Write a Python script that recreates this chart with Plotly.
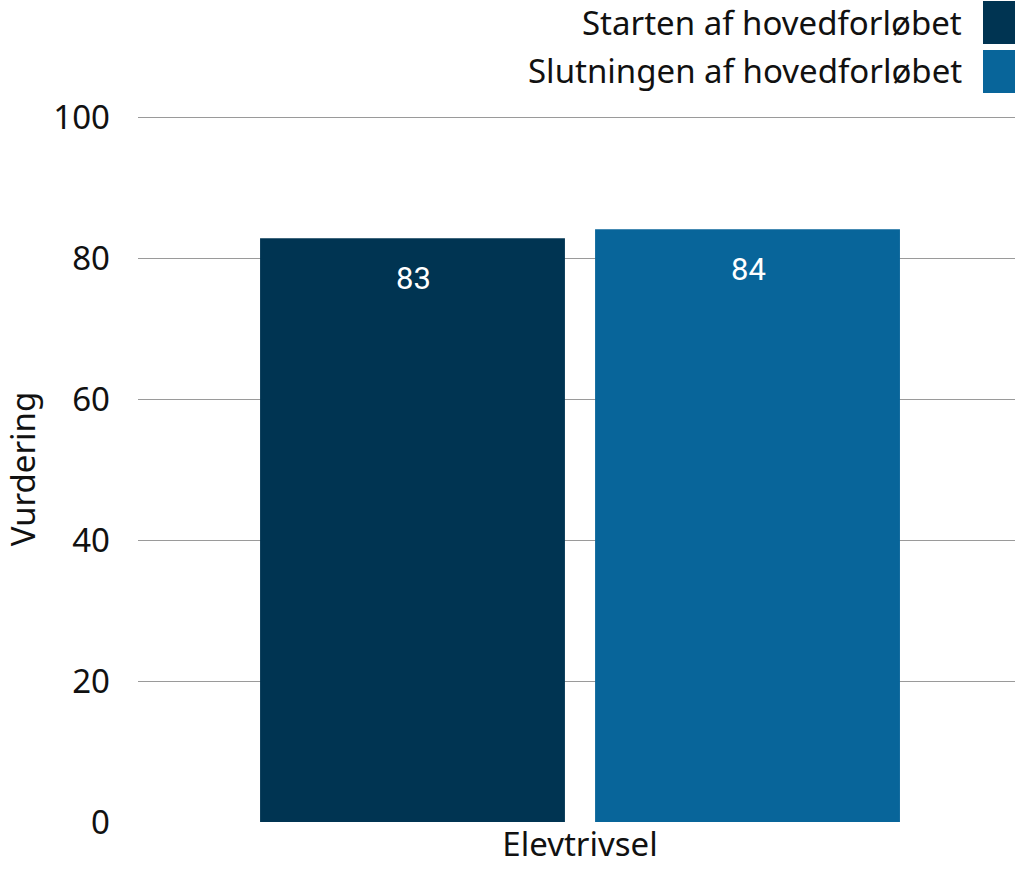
import plotly.graph_objects as go

categories = ["Elevtrivsel"]
series_names = ["Starten af hovedforløbet", "Slutningen af hovedforløbet"]
series_values = [[82.8], [84.1]]
series_labels = ["83", "84"]
colors = ["#003452", "#08659A"]
y_ticks = [0, 20, 40, 60, 80, 100]

FONT = "Noto Sans, DejaVu Sans, sans-serif"
LABEL_FONT = "Liberation Sans Narrow, Roboto, sans-serif"

fig = go.Figure()
for name, vals, col in zip(series_names, series_values, colors):
    fig.add_trace(go.Bar(x=categories, y=vals, name=name, marker_color=col,
                         marker_line_width=0, showlegend=False))

# bar value labels
offsets = [-167, 168]
for vals, lab, dx in zip(series_values, series_labels, offsets):
    fig.add_annotation(x=categories[0], y=vals[0], text=lab, showarrow=False,
                       xshift=dx, yshift=-40, font=dict(family=LABEL_FONT, size=31, color="white"))

# legend (text right-aligned, swatch on the right)
leg_y = [22, 70]
for name, col, yy in zip(series_names, colors, leg_y):
    fig.add_annotation(xref="paper", yref="paper", x=1, y=1, xanchor="right", yanchor="middle",
                       text=name, showarrow=False, xshift=-51, yshift=116 - yy,
                       font=dict(family=FONT, size=33, color="#111"))

fig.update_layout(
    width=1015, height=869,
    margin=dict(l=138, r=0, t=116, b=47, pad=0),
    plot_bgcolor="white", paper_bgcolor="white",
    barmode="group", bargap=0.236, bargroupgap=0.09,
    font=dict(family=FONT, size=33, color="#111"),
    yaxis=dict(range=[0, 100.15], tickvals=y_ticks, showgrid=True, gridcolor="#9a9a9a", gridwidth=1,
               zeroline=False, showline=False, ticks="", ticklabelstandoff=27, automargin=False,
               title=dict(text="Vurdering", font=dict(size=33), standoff=10),
               tickfont=dict(size=33)),
    xaxis=dict(showline=False, ticks="", tickfont=dict(size=33), automargin=False,
               range=[-0.504, 0.496]),
)

# legend swatches in pixel size anchored to plot-area right/top edge
sw_top = [1, 50]
for col, top in zip(colors, sw_top):
    fig.add_shape(type="rect", xref="paper", yref="paper", xsizemode="pixel", ysizemode="pixel",
                  xanchor=1, yanchor=1, x0=-32, x1=0, y0=116 - top, y1=116 - top - 43,
                  fillcolor=col, line_width=0)

fig.write_html("out.html", config={"displayModeBar": False},
               post_script="document.body.style.margin='0';document.body.style.overflow='hidden';")
